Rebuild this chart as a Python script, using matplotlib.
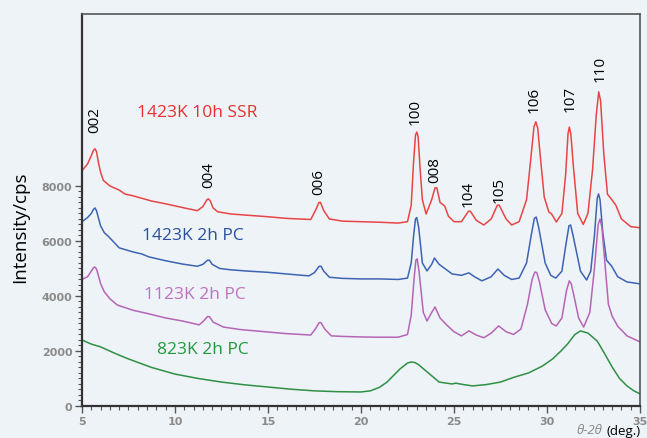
import numpy as np
import matplotlib
matplotlib.use("Agg")
import matplotlib.pyplot as plt
from matplotlib.ticker import MultipleLocator, FixedLocator

# 2theta (deg) / intensity (cps)
red_x = [5.0, 5.3, 5.5, 5.62, 5.7, 5.78, 5.9, 6.0, 6.15, 6.5, 7.0, 7.3, 7.75, 8.75, 9.5, 10.5, 11.2, 11.5,
         11.72, 11.8, 11.9, 12.05, 12.3, 13.0, 14.0, 15.0, 16.0, 17.3, 17.58, 17.74, 17.82, 18.0, 18.3,
         19.0, 20.0, 21.0, 22.0, 22.5, 22.7, 22.82, 22.93, 23.0, 23.07, 23.18, 23.3, 23.5, 23.8, 23.98,
         24.08, 24.25, 24.5, 24.7, 25.0, 25.4, 25.78, 25.88, 26.2, 26.6, 27.0, 27.33, 27.43, 27.8, 28.1,
         28.5, 28.9, 29.1, 29.3, 29.4, 29.5, 29.65, 29.85, 30.1, 30.25, 30.5, 30.8, 31.0, 31.13, 31.2,
         31.28, 31.42, 31.65, 31.95, 32.2, 32.45, 32.65, 32.78, 32.88, 33.05, 33.25, 33.45, 33.7, 34.0,
         34.5, 35.0]
red_y = [8550, 8800, 9100, 9300, 9350, 9250, 8800, 8500, 8200, 8000, 7850, 7710, 7640, 7450, 7350, 7200, 7100, 7250,
         7500, 7530, 7450, 7200, 7060, 6980, 6930, 6880, 6820, 6780, 7150, 7400, 7400, 7100, 6800,
         6720, 6700, 6680, 6650, 6700, 7300, 8800, 9850, 9960, 9800, 8600, 7500, 6980, 7500, 7930,
         7930, 7400, 7270, 6900, 6700, 6700, 7080, 7080, 6750, 6580, 6800, 7300, 7300, 6800, 6580,
         6700, 7500, 8800, 10150, 10330, 10100, 9000, 7600, 7050, 6980, 6690, 7000, 8400, 9900, 10140,
         9900, 8700, 7000, 6600, 7000, 8600, 10600, 11420, 11100, 9200, 7700, 7530, 7300, 6800,
         6520, 6480]

blue_x = [5.0, 5.3, 5.5, 5.62, 5.7, 5.78, 5.9, 6.0, 6.2, 6.4, 7.0, 7.75, 8.2, 8.6, 9.5, 10.4, 11.2, 11.5,
          11.75, 11.85, 12.0, 12.4, 13.0, 14.0, 15.0, 16.0, 17.2, 17.5, 17.75, 17.85, 18.0, 18.3, 19.0,
          20.0, 21.0, 22.0, 22.5, 22.7, 22.83, 22.93, 23.0, 23.1, 23.3, 23.55, 23.8, 23.95, 24.2, 24.5,
          24.9, 25.4, 25.8, 26.1, 26.5, 27.0, 27.36, 27.7, 28.1, 28.5, 28.9, 29.15, 29.32, 29.42,
          29.55, 29.9, 30.2, 30.47, 30.8, 31.0, 31.18, 31.27, 31.4, 31.8, 32.13, 32.35, 32.55, 32.7,
          32.77, 32.85, 33.0, 33.2, 33.47, 33.8, 34.3, 35.0]
blue_y = [6700, 6850, 7000, 7150, 7200, 7100, 6800, 6550, 6300, 6180, 5750, 5600, 5530, 5420, 5280, 5160, 5080, 5150,
          5300, 5300, 5150, 5000, 4950, 4900, 4860, 4800, 4730, 4850, 5080, 5080, 4900, 4680, 4640,
          4620, 4620, 4600, 4650, 5200, 6200, 6800, 6850, 6500, 5200, 4910, 5150, 5380, 5150, 5000,
          4800, 4750, 4840, 4700, 4550, 4700, 4980, 4750, 4600, 4650, 5200, 6200, 6820, 6870,
          6500, 5200, 4750, 4650, 4900, 5800, 6550, 6580, 6200, 4900, 4580, 4900, 6200, 7550,
          7710, 7500, 6300, 5300, 5090, 4700, 4510, 4440]

mag_x = [5.0, 5.3, 5.5, 5.62, 5.7, 5.78, 5.9, 6.0, 6.2, 6.5, 6.9, 7.75, 8.6, 9.5, 10.4, 11.3, 11.55,
         11.75, 11.85, 12.05, 12.6, 13.5, 15.0, 16.0, 17.3, 17.55, 17.75, 17.85, 18.05, 18.4, 19.0,
         20.0, 21.0, 22.0, 22.5, 22.7, 22.85, 22.95, 23.02, 23.12, 23.35, 23.55, 23.8, 23.98, 24.25,
         24.6, 25.0, 25.4, 25.8, 26.2, 26.6, 27.0, 27.4, 27.8, 28.2, 28.6, 28.95, 29.2, 29.35, 29.45,
         29.6, 29.9, 30.25, 30.5, 30.8, 31.05, 31.2, 31.3, 31.45, 31.7, 31.97, 32.3, 32.55, 32.75,
         32.85, 32.95, 33.1, 33.3, 33.5, 33.8, 34.3, 35.0]
mag_y = [4600, 4700, 4900, 5030, 5050, 4980, 4700, 4450, 4150, 3900, 3670, 3480, 3350, 3200, 3090, 2950, 3100,
         3250, 3250, 3050, 2870, 2780, 2690, 2630, 2580, 2800, 3030, 3030, 2800, 2550, 2530,
         2510, 2500, 2500, 2600, 3300, 4600, 5300, 5350, 4900, 3400, 3090, 3400, 3600, 3200,
         2950, 2700, 2550, 2730, 2580, 2480, 2650, 2910, 2700, 2600, 2800, 3700, 4600, 4870, 4850,
         4500, 3500, 3000, 2910, 3200, 4200, 4550, 4450, 4000, 3200, 2870, 3400, 5000, 6600,
         6800, 6500, 5300, 3700, 3270, 2900, 2550, 2330]

green_x = [5.0, 5.5, 6.0, 6.75, 7.5, 8.75, 10.0, 11.25, 12.5, 13.75, 15.0, 16.25, 17.5, 18.75, 20.0,
           20.5, 21.0, 21.4, 22.1, 22.5, 22.7, 22.9, 23.1, 23.5, 24.2, 24.9, 25.1, 25.5, 26.0, 26.75,
           27.5, 28.25, 29.0, 29.75, 30.3, 30.75, 31.1, 31.5, 31.8, 32.2, 32.7, 33.1, 33.5, 33.9,
           34.3, 34.65, 35.0]
green_y = [2400, 2250, 2150, 1920, 1710, 1400, 1160, 1000, 870, 770, 690, 610, 550, 520, 510,
           550, 680, 870, 1350, 1560, 1600, 1580, 1500, 1270, 870, 800, 830, 780, 730, 780,
           870, 1050, 1200, 1450, 1710, 2000, 2250, 2600, 2730, 2650, 2360, 1900, 1420, 1000,
           730, 560, 440]

# peak labels: (text, x, y of label bottom)
peak_names = ["002", "004", "006", "100", "008", "104", "105", "106", "107", "110"]
peak_x = [5.7, 11.8, 17.75, 22.9, 23.95, 25.75, 27.45, 29.3, 31.25, 32.85]
peak_y = [9960, 7960, 7710, 10250, 8140, 7270, 7420, 10690, 10730, 11820]

BG = "#eef3f7"
RED = "#e84545"
BLUE = "#3d63b3"
MAG = "#b565b5"
GREEN = "#2f8f45"

plt.rcParams["font.family"] = ["Open Sans", "DejaVu Sans"]

fig = plt.figure(figsize=(6.47, 4.39), dpi=100, facecolor=BG)
ax = fig.add_axes([0.1267, 0.0729, 0.8625, 0.8929], facecolor=BG)

ax.plot(red_x, red_y, color=RED, lw=1.1)
ax.plot(blue_x, blue_y, color=BLUE, lw=1.1)
ax.plot(mag_x, mag_y, color=MAG, lw=1.1)
ax.plot(green_x, green_y, color=GREEN, lw=1.1)

for name, px, py in zip(peak_names, peak_x, peak_y):
    ax.text(px, py, name, rotation=90, ha="center", va="bottom", fontsize=11, color="black")

ax.text(11.2, 10690, "1423K 10h SSR", color="#e8302f", fontsize=12.5, ha="center", va="center")
ax.text(10.95, 6220, "1423K 2h PC", color="#2a4ea0", fontsize=12.5, ha="center", va="center")
ax.text(11.05, 4070, "1123K 2h PC", color="#c070c0", fontsize=12.5, ha="center", va="center")
ax.text(11.5, 2070, "823K 2h PC", color="#1f9a3a", fontsize=12.5, ha="center", va="center")

ax.set_xlim(5, 35)
ax.set_ylim(0, 14250)
ax.xaxis.set_major_locator(MultipleLocator(5))
ax.xaxis.set_minor_locator(MultipleLocator(0.5))
ax.yaxis.set_major_locator(FixedLocator([0, 2000, 4000, 6000, 8000]))
ax.yaxis.set_minor_locator(FixedLocator(np.arange(0, 8001, 200)))

tick_font = ["Liberation Sans Narrow", "DejaVu Sans"]
for lab in ax.get_xticklabels() + ax.get_yticklabels():
    lab.set_family(tick_font)
    lab.set_weight("bold")
ax.tick_params(which="major", direction="out", length=5, width=1, colors="#555555",
               labelsize=8, labelcolor="#8a8a8a", pad=2)
ax.tick_params(which="minor", direction="out", length=3, width=0.8, colors="#555555")

for side in ["left", "bottom"]:
    ax.spines[side].set_color("#333333")
    ax.spines[side].set_linewidth(1.6)
for side in ["top", "right"]:
    ax.spines[side].set_color("#555555")
    ax.spines[side].set_linewidth(1.2)

fig.text(0.031, 0.483, "Intensity/cps", rotation=90, ha="center", va="center", fontsize=13.5)
fig.text(0.891, 0.004, "θ-2θ", style="italic", color="#888888", fontsize=9.5, ha="left", va="bottom")
fig.text(0.938, 0.002, "(deg.)", color="black", fontsize=9.5, ha="left", va="bottom")

fig.savefig("out.png", dpi=100, facecolor=BG)
